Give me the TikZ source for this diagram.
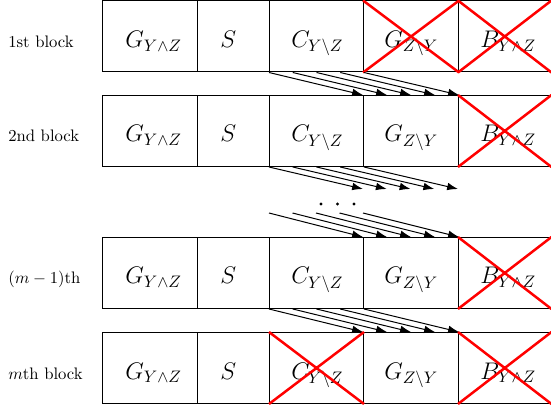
\documentclass[tikz,border=0pt]{standalone}
\usetikzlibrary{calc,arrows.meta}
\begin{document}
\begin{tikzpicture}[x=0.6pt,y=-0.6pt,
  cell/.style={draw, line width=0.6pt, inner sep=0pt, minimum height=42.6pt, anchor=north west},
  txt/.style={anchor=base west, font=\Large, inner sep=0pt},
  lab/.style={anchor=base west, inner sep=0pt},
  cross/.style={red, line width=1.5pt},
  arr/.style={-{Latex[length=6.5pt,width=4.6pt]}, line width=0.6pt}]
\useasboundingbox (0,0) rectangle (551,411);
\foreach \r/\t in {1/0.5,2/95,3/237,4/332} {
  \node[cell, minimum width=57pt] (g\r) at (102,\t) {};
  \node[cell, minimum width=43.2pt] (s\r) at (197,\t) {};
  \node[cell, minimum width=56.4pt] (c\r) at (269,\t) {};
  \node[cell, minimum width=57pt] (z\r) at (363,\t) {};
  \node[cell, minimum width=55.5pt] (b\r) at (458,\t) {};
  \node[txt] (tg\r) at ($(g\r.north west)+(23,47)$) {$G_{Y\wedge Z}$};
  \node[txt] (ts\r) at ($(s\r.north west)+(23,47)$) {$S$};
  \node[txt] (tc\r) at ($(c\r.north west)+(22,47)$) {$C_{Y\setminus Z}$};
  \node[txt] (tz\r) at ($(z\r.north west)+(21,47)$) {$G_{Z\setminus Y}$};
  \node[txt] (tb\r) at ($(b\r.north west)+(22,47)$) {$B_{Y\wedge Z}$};
}
\node[lab] (l1) at (8,47.5) {1st block};
\node[lab] (l2) at (8,142) {2nd block};
\node[lab] (l3) at (8,284) {$(m-1)$th};
\node[lab] (l4) at (8,379) {$m$th block};
% crosses
\foreach \n in {z1,b1,b2,b3,c4,b4} {
  \draw[cross] (\n.north west) -- (\n.south east) (\n.south west) -- (\n.north east);
}
% arrows
\coordinate (e2w) at (363,189);
\coordinate (e2e) at (458,189);
\coordinate (s3w) at (269,213);
\coordinate (s3e) at (363,213);
\foreach \k in {0,...,4} {
  \draw[arr] ($(c1.south west)!\k/4!(c1.south east)$) -- ($(z2.north west)!\k/4!(z2.north east)$);
  \draw[arr] ($(c2.south west)!\k/4!(c2.south east)$) -- ($(e2w)!\k/4!(e2e)$);
  \draw[arr] ($(s3w)!\k/4!(s3e)$) -- ($(z3.north west)!\k/4!(z3.north east)$);
  \draw[arr] ($(c3.south west)!\k/4!(c3.south east)$) -- ($(z4.north west)!\k/4!(z4.north east)$);
}
\foreach \x in {321,337.5,354} \fill (\x,204) circle (1.6);
\end{tikzpicture}
\end{document}
